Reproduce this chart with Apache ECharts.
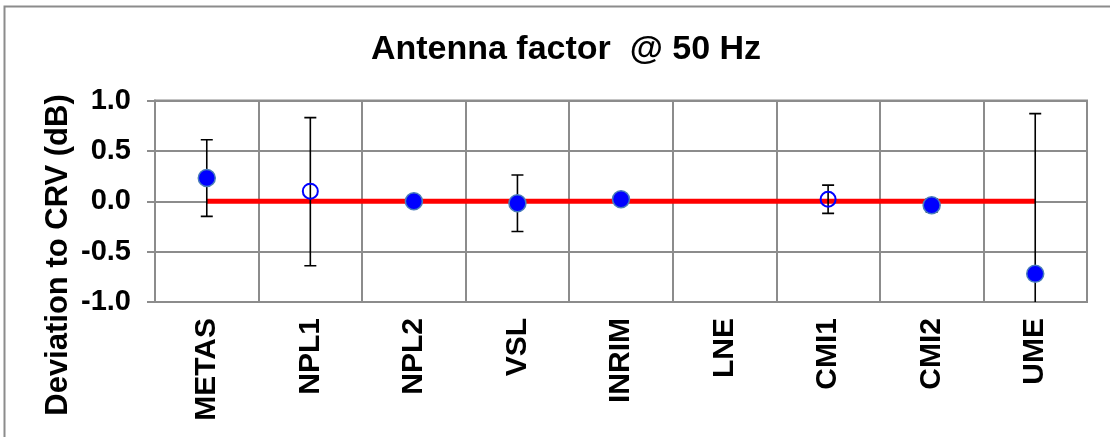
<!DOCTYPE html>
<html>
<head>
<meta charset="utf-8">
<script src="https://cdn.jsdelivr.net/npm/echarts@6/dist/echarts.min.js"></script>
<style>
  html, body { margin: 0; padding: 0; background: #ffffff; }
  #chart { width: 1110px; height: 437px; }
</style>
</head>
<body>
<div id="chart"></div>
<script>
// ---- Data ----
const categories = ['METAS', 'NPL1', 'NPL2', 'VSL', 'INRIM', 'LNE', 'CMI1', 'CMI2', 'UME'];
const filledValues = [0.23, null, 0.00, -0.02, 0.02, null, null, -0.04, -0.72];
const openValues   = [null, 0.10, null, null, null, null, 0.02, null, null];
const errLow       = [-0.15, -0.64, null, -0.30, null, null, -0.12, -0.105, -2.30];
const errHigh      = [0.61, 0.83, null, 0.26, null, null, 0.16, 0.025, 0.87];
const refValues    = [0, 0, 0, 0, 0, 0, 0, 0, 0];
const titleText = 'Antenna factor  @ 50 Hz';
const yAxisTitle = 'Deviation to CRV (dB)';

const errData = [];
categories.forEach((c, i) => {
  if (errLow[i] !== null && errHigh[i] !== null) errData.push([i, errLow[i], errHigh[i]]);
});

const gridColor = '#8c8c8c';
const font = '"Liberation Sans", Arial, sans-serif';

const chart = echarts.init(document.getElementById('chart'), null, { renderer: 'canvas' });
chart.setOption({
  backgroundColor: '#ffffff',
  animation: false,
  title: {
    text: titleText,
    left: 561, textAlign: 'center',
    top: 28,
    textStyle: { fontFamily: font, fontWeight: 'bold', fontSize: 34, color: '#000' }
  },
  graphic: [
    {
      type: 'rect',
      shape: { x: 4.5, y: 6.5, width: 1200, height: 600 },
      style: { fill: 'none', stroke: gridColor, lineWidth: 2 },
      silent: true
    },
    {
      type: 'text',
      x: 58, y: 255,
      rotation: Math.PI / 2,
      style: {
        text: yAxisTitle,
        fontFamily: font, fontWeight: 'bold', fontSize: 31, fill: '#000',
        align: 'center', verticalAlign: 'middle'
      }
    }
  ],
  grid: {
    left: 155, right: 23, top: 100.5, bottom: 135,
    show: true, borderColor: gridColor, borderWidth: 2
  },
  xAxis: {
    type: 'category',
    data: categories,
    boundaryGap: true,
    axisLine: { lineStyle: { color: gridColor, width: 2 } },
    axisTick: { show: true, interval: 0, length: 8, lineStyle: { color: gridColor, width: 2 } },
    splitLine: { show: true, interval: 0, lineStyle: { color: gridColor, width: 2 } },
    axisLabel: {
      interval: 0, rotate: 90, margin: 16,
      fontFamily: font, fontWeight: 'bold', fontSize: 30, color: '#000'
    }
  },
  yAxis: {
    type: 'value',
    min: -1, max: 1, interval: 0.5,
    axisLine: { show: true, lineStyle: { color: gridColor, width: 2 } },
    axisTick: { show: true, length: 8, lineStyle: { color: gridColor, width: 2 } },
    splitLine: { show: true, lineStyle: { color: gridColor, width: 2 } },
    axisLabel: {
      margin: 24,
      formatter: v => v.toFixed(1),
      fontFamily: font, fontWeight: 'bold', fontSize: 29, color: '#000'
    }
  },
  series: [
    {
      type: 'line',
      data: refValues,
      symbol: 'none',
      lineStyle: { color: '#ff0000', width: 5 },
      z: 2
    },
    {
      type: 'custom',
      data: errData,
      clip: true,
      z: 3,
      renderItem: function (params, api) {
        const i = api.value(0);
        const lo = api.coord([i, api.value(1)]);
        const hi = api.coord([i, api.value(2)]);
        const hw = 6;
        const st = { stroke: '#000', lineWidth: 1.6 };
        return {
          type: 'group',
          children: [
            { type: 'line', shape: { x1: lo[0], y1: lo[1], x2: hi[0], y2: hi[1] }, style: st },
            { type: 'line', shape: { x1: lo[0] - hw, y1: lo[1], x2: lo[0] + hw, y2: lo[1] }, style: st },
            { type: 'line', shape: { x1: hi[0] - hw, y1: hi[1], x2: hi[0] + hw, y2: hi[1] }, style: st }
          ]
        };
      }
    },
    {
      type: 'scatter',
      data: filledValues,
      symbol: 'circle',
      symbolSize: 17,
      itemStyle: { color: '#0000ff', borderColor: '#4a7ebb', borderWidth: 1.5, opacity: 1 },
      z: 4
    },
    {
      type: 'scatter',
      data: openValues,
      symbol: 'circle',
      symbolSize: 15,
      itemStyle: { color: 'rgba(255,255,255,0)', borderColor: '#0000ff', borderWidth: 2, opacity: 1 },
      z: 4
    }
  ]
});
</script>
</body>
</html>
